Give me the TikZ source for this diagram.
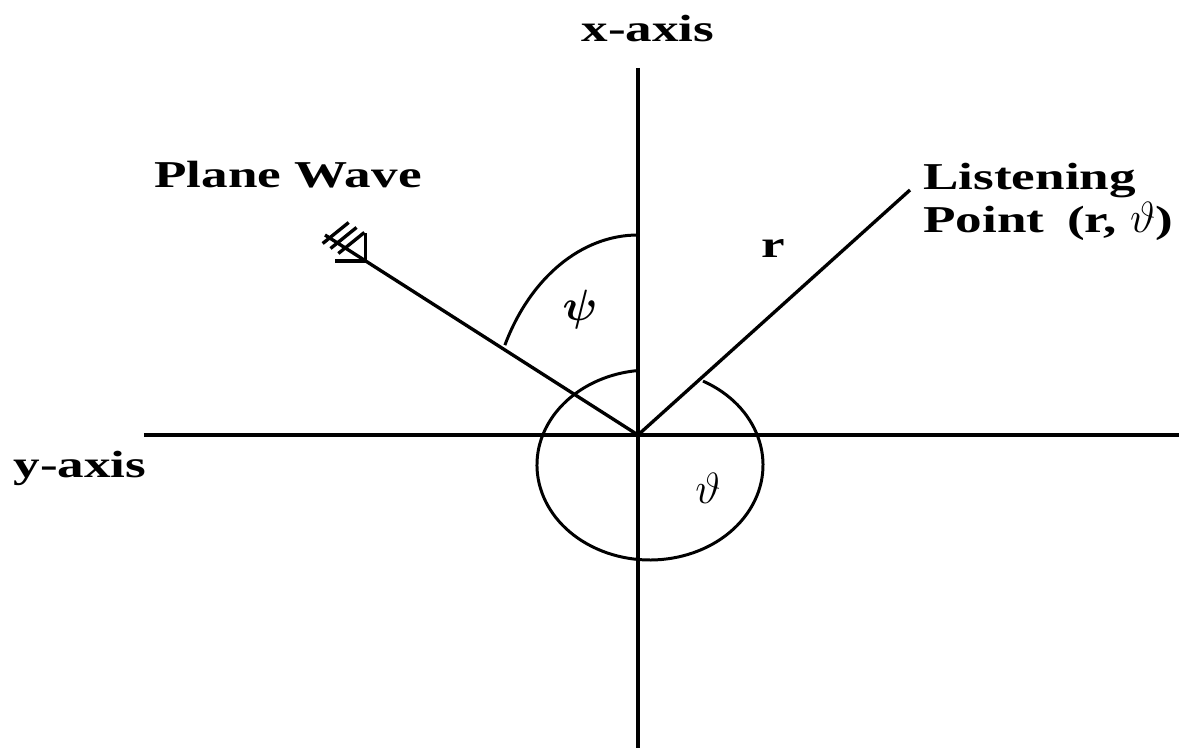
\documentclass[tikz,border=0pt]{standalone}
\usepackage{amsmath}
\usepackage{fontspec}
\setmainfont{Liberation Serif}[FakeStretch=1.4]
\usetikzlibrary{calc}

\begin{document}
\begin{tikzpicture}[
          axis/.style={line width=2.3pt},
          ray/.style={line width=1.9pt},
          angarc/.style={line width=1.7pt},
          lbl/.style={font=\fontsize{21.6}{24.4}\selectfont\bfseries, inner sep=0pt}
        ]
        \useasboundingbox (-12.76,-6.32) rectangle (10.82,8.70);
        \coordinate (O)      at (0,0);
        \coordinate (xtop)   at (0,7.34);
        \coordinate (xbot)   at (0,-6.26);
        \coordinate (yleft)  at (-9.88,0);
        \coordinate (yright) at (10.82,0);
        \coordinate (wave)   at (-6.26,4.00);
        \coordinate (listen) at (5.44,4.90);

        \node[lbl, anchor=base] (xlab) at (0.20,7.86) {x-axis};
        \node[lbl, anchor=base] (ylab) at (-11.16,-0.86) {y-axis};
        \node[lbl, anchor=base] (wlab) at (-7.0,4.94) {Plane Wave};
        \node[lbl, anchor=north west, align=left] (plab) at (5.70,5.44)
              {Listening\\Point\hspace{0.25em} (r, {\fontsize{25}{28}\selectfont$\vartheta$})};
        \node[lbl, anchor=base] (rlab) at (2.70,3.54) {r};
        \node[lbl, font=\fontsize{26}{30}\selectfont] (psi) at (-1.16,2.5) {$\boldsymbol{\psi}$};
        \node[font=\fontsize{26}{30}\selectfont, inner sep=0pt] (theta) at (1.40,-1.06) {$\vartheta$};

        % axes
        \draw[axis] (xtop) -- (xbot);
        \draw[axis] (yleft) -- (yright);

        % rays
        \draw[ray] (O) -- (wave);
        \draw[ray] (O) -- (listen);

        % tail of the plane wave
        \foreach \p in {0.015,0.04,0.065}
          \draw[ray] ($(wave)!\p!(O)$) ++(-0.14,-0.11) -- ++(0.52,0.42);
        \coordinate (tip) at ($(wave)!0.13!(O)$);
        \draw[ray] (tip) -- ++(0,0.56);
        \draw[ray] (tip) -- ++(-0.62,0);

        % angles
        \draw[angarc] (0,4) arc[start angle=90, end angle=153.3, x radius=2.98, y radius=4];
        \draw[angarc] ($(0.24,-0.60)+(62:2.26 and 1.9)$)
              arc[start angle=62, end angle=-263, x radius=2.26, y radius=1.9];
      \end{tikzpicture}
\end{document}
